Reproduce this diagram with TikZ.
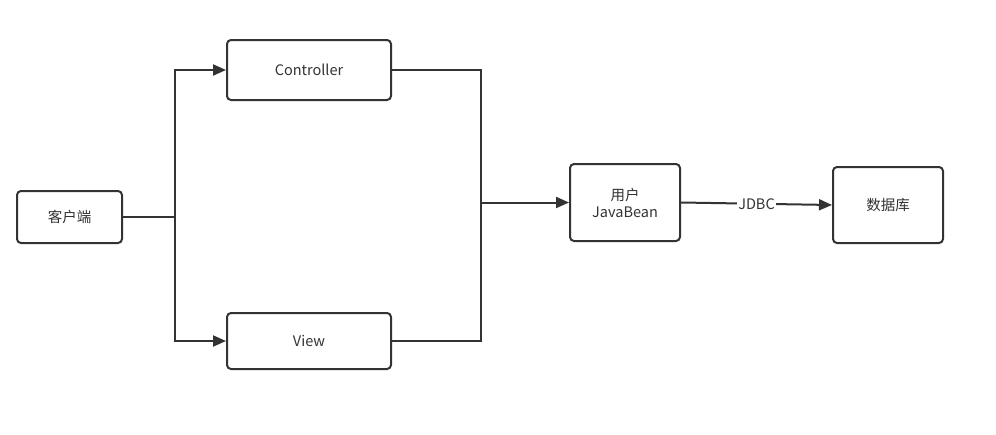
\documentclass[tikz,border=0pt]{standalone}
\usepackage{fontspec}
\setmainfont{Noto Sans CJK SC}
\usetikzlibrary{arrows.meta}
\definecolor{ink}{HTML}{333333}
\begin{document}
\begin{tikzpicture}[x=1pt,y=-1pt,
  box/.style={draw=ink,line width=2pt,rounded corners=4pt,fill=white,text=ink,font=\fontsize{14.5}{17}\selectfont,align=center,inner sep=0pt},
  conn/.style={draw=ink,line width=2pt},
  arr/.style={conn,-{Triangle[length=13pt,width=11pt]}}]
\useasboundingbox (0,0) rectangle (996,434);
\node[box,minimum width=105pt,minimum height=52pt] (client) at (69.5,217) {客户端};
\node[box,minimum width=164pt,minimum height=60pt] (ctrl) at (309,70) {Controller};
\node[box,minimum width=164pt,minimum height=56pt] (view) at (309,341) {View};
\node[box,minimum width=110pt,minimum height=77pt] (bean) at (625,202.5) {用户\\JavaBean};
\node[box,minimum width=110pt,minimum height=76pt] (db) at (888,205) {数据库};
\coordinate (jl) at (175,217);
\coordinate (jr) at (481,202.5);
\draw[conn] (client.east) -- (jl);
\draw[arr] (jl) |- (ctrl.west);
\draw[arr] (jl) |- (view.west);
\draw[conn] (ctrl.east) -| (jr) |- (view.east);
\draw[arr] (jr) -- (bean.west);
\draw[arr] (bean.east) -- node[fill=white,text=ink,inner sep=1pt,font=\fontsize{14.5}{17}\selectfont] {JDBC} (db.west);
\end{tikzpicture}
\end{document}
